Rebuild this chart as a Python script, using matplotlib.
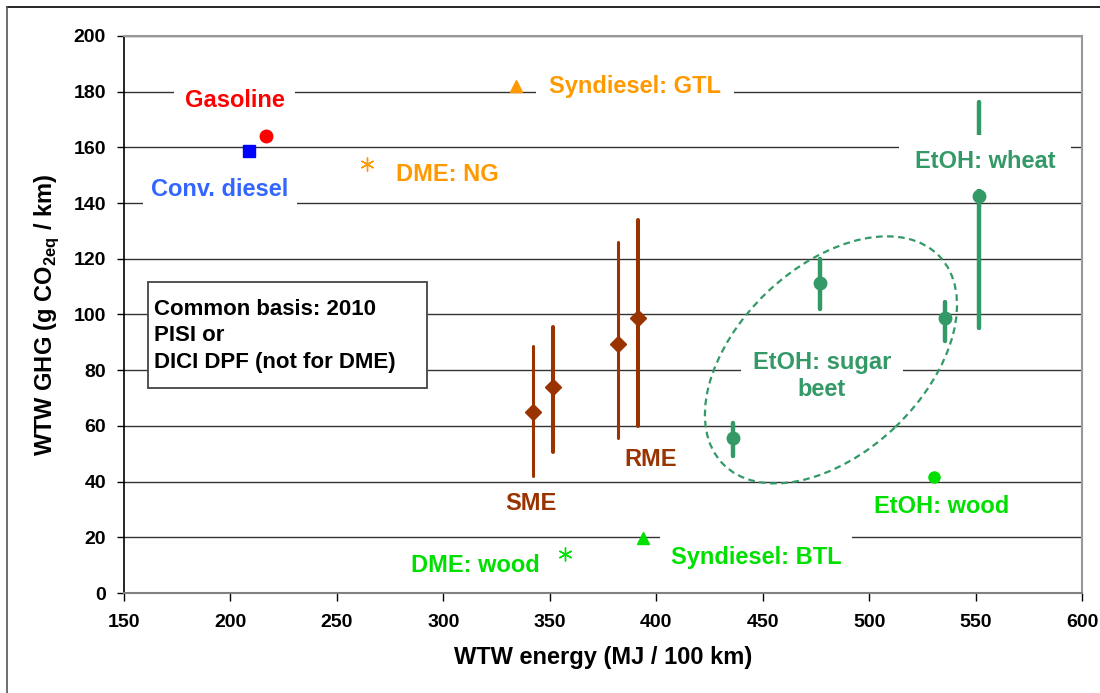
import matplotlib
matplotlib.use("Agg")
import matplotlib.pyplot as plt
from matplotlib.patches import Ellipse, Rectangle
from matplotlib.transforms import ScaledTranslation
import matplotlib.lines as mlines

plt.rcParams['font.family'] = ['Liberation Sans', 'DejaVu Sans']
plt.rcParams['font.weight'] = 'bold'
plt.rcParams['mathtext.fontset'] = 'custom'
plt.rcParams['mathtext.rm'] = 'Liberation Sans:bold'

# single points: conventional fuels and synthetic fuels
single_names = ["Gasoline", "Conv. diesel", "Syndiesel: GTL", "DME: NG",
                "EtOH: wood", "DME: wood", "Syndiesel: BTL"]
single_x = [216.7, 208.7, 334.0, 264.0, 530.6, 357.1, 393.9]
single_y = [164.1, 158.7, 182.0, 154.0, 41.8, 14.0, 19.6]

# biodiesel (SME, RME): central value and range
bio_x = [342.3, 351.7, 382.2, 391.6]
bio_y = [65.0, 74.0, 89.5, 98.6]
bio_lo = [42.0, 50.5, 55.8, 59.8]
bio_hi = [88.8, 95.6, 125.9, 133.9]

# ethanol: sugar beet (3) and wheat (1)
eth_x = [435.9, 476.9, 535.6, 551.6]
eth_y = [55.8, 111.4, 98.9, 142.5]
eth_lo = [49.3, 102.1, 90.6, 95.3]
eth_hi = [60.9, 119.8, 104.6, 176.4]

RED = '#ff0000'
BLUE = '#0000ff'
LBLUE = '#3366ff'
ORANGE = '#ff9900'
BROWN = '#993300'
GREEN = '#339966'
LIME = '#00e000'

fig = plt.figure(figsize=(11, 6.93), dpi=100)
ax = fig.add_axes([0.1127, 0.1443, 0.8709, 0.8038])

ax.set_xlim(150, 600)
ax.set_ylim(0, 200)
ax.set_xticks(range(150, 601, 50))
ax.set_yticks(range(0, 201, 20))
ax.set_axisbelow(True)
ax.yaxis.grid(True, color='#333333', lw=1.0)

for s in ['top', 'right']:
    ax.spines[s].set_color('#999999')
    ax.spines[s].set_linewidth(1.5)
ax.spines['left'].set_color('black')
ax.spines['left'].set_linewidth(1.2)
ax.spines['bottom'].set_color('#808080')
ax.spines['bottom'].set_linewidth(1.5)

ax.tick_params(axis='x', direction='out', length=6, width=1, pad=9,
               labelsize=14, colors='black')
ax.tick_params(axis='y', direction='out', length=5, width=1, pad=8,
               labelsize=14, colors='black')
for lab in ax.get_xticklabels() + ax.get_yticklabels():
    lab.set_fontweight('bold')

ax.set_xlabel('WTW energy (MJ / 100 km)', fontsize=17, fontweight='bold')
ax.set_ylabel(r'WTW GHG (g CO$_{\rm 2eq}$ / km)', fontsize=17, fontweight='bold')
ax.xaxis.set_label_coords(0.5, -0.095)
ax.yaxis.set_label_coords(-0.066, 0.5)

# single markers
styles = [
    dict(marker='o', color=RED, ms=9),
    dict(marker='s', color=BLUE, ms=8.5),
    dict(marker='^', color=ORANGE, ms=9),
    dict(marker=(6, 2, 0), color=ORANGE, ms=10, mew=1.0),
    dict(marker='o', color=LIME, ms=8),
    dict(marker=(6, 2, 0), color=LIME, ms=10, mew=1.0),
    dict(marker='^', color=LIME, ms=9),
]
for x, y, st in zip(single_x, single_y, styles):
    ax.plot([x], [y], ls='none', zorder=4, **st)

# biodiesel ranges
bio_w = [2.2, 2.9, 2.2, 2.9]
for x, y, lo, hi, w in zip(bio_x, bio_y, bio_lo, bio_hi, bio_w):
    ax.plot([x, x], [lo, hi], color=BROWN, lw=w, zorder=2, solid_capstyle='round')
    ax.plot([x], [y], marker='D', color=BROWN, ms=8, ls='none', zorder=2)

# ethanol ranges
for x, y, lo, hi in zip(eth_x, eth_y, eth_lo, eth_hi):
    ax.plot([x, x], [lo, hi], color=GREEN, lw=3.2, zorder=2, solid_capstyle='round')
    ax.plot([x], [y], marker='o', color=GREEN, ms=9, ls='none', zorder=2)

# dashed ellipse around sugar beet
ell = Ellipse((0, 0), 3.0, 1.86, angle=43.7, fill=False, ec=GREEN, lw=1.6,
              ls=(0, (3, 2)),
              transform=fig.dpi_scale_trans + ScaledTranslation(482.1, 83.7, ax.transData))
ax.add_patch(ell)

# labels with white background
labels = [
    ("Gasoline", 202.1, 176.7, RED, 0.45),
    ("Conv. diesel", 195.1, 144.7, LBLUE, 0.35),
    ("Syndiesel: GTL", 390.0, 181.7, ORANGE, 0.55),
    ("DME: NG", 301.7, 150.4, ORANGE, 0.2),
    ("SME", 341.2, 32.0, BROWN, 0.1),
    ("RME", 397.5, 48.1, BROWN, 0.1),
    ("EtOH: wheat", 554.4, 154.8, GREEN, 0.65),
    ("EtOH: sugar\nbeet", 477.9, 77.9, GREEN, 0.5),
    ("EtOH: wood", 534.2, 30.9, LIME, 0.1),
    ("DME: wood", 315.3, 9.7, LIME, 0.1),
    ("Syndiesel: BTL", 446.9, 12.9, LIME, 0.45),
]
for txt, x, y, c, p in labels:
    ax.text(x, y, txt, color=c, fontsize=17, fontweight='bold', ha='center',
            va='center', linespacing=1.25, zorder=3,
            bbox=dict(boxstyle='square,pad=%s' % p, fc='white', ec='none'))

# note box
ax.add_patch(Rectangle((0.025, 0.368), 0.291, 0.19, transform=ax.transAxes,
                       fc='white', ec='#444444', lw=1.3, zorder=3))
ax.text(0.031, 0.462, "Common basis: 2010\nPISI or\nDICI DPF (not for DME)",
        transform=ax.transAxes, fontsize=16, fontweight='bold', ha='left',
        va='center', linespacing=1.35, zorder=4)

# outer frame (top and left edges)
fig.add_artist(mlines.Line2D([0.0064, 1.0], [0.99, 0.99], color='black', lw=1.2,
                             transform=fig.transFigure))
fig.add_artist(mlines.Line2D([0.0064, 0.0064], [0.0, 0.99], color='#555555', lw=1.2,
                             transform=fig.transFigure))

fig.savefig('out.png', dpi=100)
